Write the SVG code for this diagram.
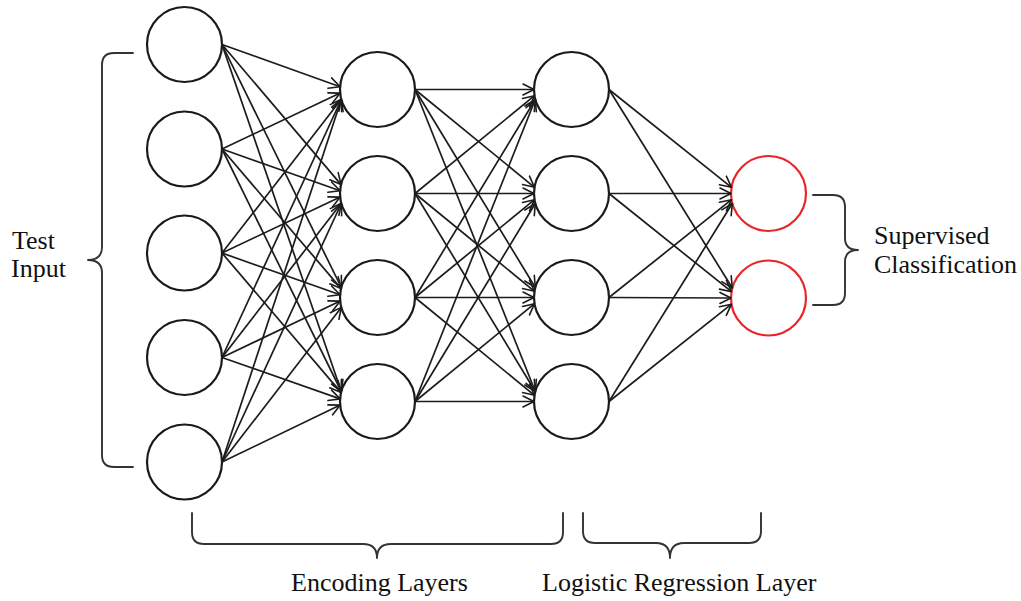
<svg xmlns="http://www.w3.org/2000/svg" width="1021" height="601" viewBox="0 0 1021 601">
  <style>
    .node { fill: #ffffff; stroke: #1a1a1a; stroke-width: 2.2; }
    .out { fill: #ffffff; stroke: #e8262a; stroke-width: 2.2; }
    .edge { stroke: #1c1c1c; stroke-width: 1.7; fill: none; marker-end: url(#arrow); }
    .brace { fill: none; stroke: #333333; stroke-width: 1.9; stroke-linecap: round; stroke-linejoin: round; }
    .label { font-family: "Liberation Serif", "Times New Roman", serif; font-size: 26px; fill: #111111; }
  </style>
  <defs>
    <marker id="arrow" viewBox="-12 -7 13 14" refX="0" refY="0" markerWidth="13" markerHeight="14" markerUnits="userSpaceOnUse" orient="auto">
      <path d="M-11,-5.5 L0,0 L-11,5.5" fill="none" stroke="#1c1c1c" stroke-width="1.6" stroke-linecap="round" stroke-linejoin="round"/>
    </marker>
  </defs>
  <rect x="0" y="0" width="1021" height="601" fill="#ffffff"/>

  <!-- input layer -->
  <g id="in1"><circle class="node" cx="184.5" cy="44.5" r="37.5"/></g>
  <g id="in2"><circle class="node" cx="184.5" cy="149" r="37.5"/></g>
  <g id="in3"><circle class="node" cx="184.5" cy="253" r="37.5"/></g>
  <g id="in4"><circle class="node" cx="184.5" cy="357.5" r="37.5"/></g>
  <g id="in5"><circle class="node" cx="184.5" cy="462" r="37.5"/></g>

  <!-- first encoding layer -->
  <g id="enc1a"><circle class="node" cx="377.5" cy="89.5" r="37.5"/></g>
  <g id="enc1b"><circle class="node" cx="377.5" cy="193.5" r="37.5"/></g>
  <g id="enc1c"><circle class="node" cx="377.5" cy="297.5" r="37.5"/></g>
  <g id="enc1d"><circle class="node" cx="377.5" cy="401.5" r="37.5"/></g>

  <!-- second encoding layer -->
  <g id="enc2a"><circle class="node" cx="571.5" cy="89.5" r="37.5"/></g>
  <g id="enc2b"><circle class="node" cx="571.5" cy="193.5" r="37.5"/></g>
  <g id="enc2c"><circle class="node" cx="571.5" cy="297.5" r="37.5"/></g>
  <g id="enc2d"><circle class="node" cx="571.5" cy="401.5" r="37.5"/></g>

  <!-- output (classification) layer -->
  <g id="out1"><circle class="out" cx="768.5" cy="193.5" r="37.5"/></g>
  <g id="out2"><circle class="out" cx="768.5" cy="298" r="37.5"/></g>

  <g id="connectors">
    <!-- input -> first encoding layer -->
    <line class="edge" x1="222" y1="44.5" x2="340.1" y2="86.8"/>
    <line class="edge" x1="222" y1="44.5" x2="341.1" y2="184.6"/>
    <line class="edge" x1="222" y1="44.5" x2="341.3" y2="287.5"/>
    <line class="edge" x1="222" y1="44.5" x2="341.3" y2="391.5"/>
    <line class="edge" x1="222" y1="149" x2="340.2" y2="93.1"/>
    <line class="edge" x1="222" y1="149" x2="340.1" y2="190.8"/>
    <line class="edge" x1="222" y1="149" x2="341.1" y2="288.6"/>
    <line class="edge" x1="222" y1="149" x2="341.3" y2="391.5"/>
    <line class="edge" x1="222" y1="253" x2="341.3" y2="99.3"/>
    <line class="edge" x1="222" y1="253" x2="340.2" y2="197.1"/>
    <line class="edge" x1="222" y1="253" x2="340.1" y2="294.8"/>
    <line class="edge" x1="222" y1="253" x2="341.1" y2="392.6"/>
    <line class="edge" x1="222" y1="357.5" x2="341.3" y2="99.5"/>
    <line class="edge" x1="222" y1="357.5" x2="341.3" y2="203.3"/>
    <line class="edge" x1="222" y1="357.5" x2="340.2" y2="301.1"/>
    <line class="edge" x1="222" y1="357.5" x2="340.1" y2="398.9"/>
    <line class="edge" x1="222" y1="462" x2="341.3" y2="99.5"/>
    <line class="edge" x1="222" y1="462" x2="341.3" y2="203.5"/>
    <line class="edge" x1="222" y1="462" x2="341.3" y2="307.4"/>
    <line class="edge" x1="222" y1="462" x2="340.2" y2="405.1"/>

    <!-- first -> second encoding layer -->
    <line class="edge" x1="415" y1="89.5" x2="534" y2="89.5"/>
    <line class="edge" x1="415" y1="89.5" x2="534.5" y2="187.3"/>
    <line class="edge" x1="415" y1="89.5" x2="535.3" y2="287.5"/>
    <line class="edge" x1="415" y1="89.5" x2="535.3" y2="391.5"/>
    <line class="edge" x1="415" y1="193.5" x2="534.5" y2="95.7"/>
    <line class="edge" x1="415" y1="193.5" x2="534" y2="193.5"/>
    <line class="edge" x1="415" y1="193.5" x2="534.5" y2="291.3"/>
    <line class="edge" x1="415" y1="193.5" x2="535.3" y2="391.5"/>
    <line class="edge" x1="415" y1="297.5" x2="535.3" y2="99.5"/>
    <line class="edge" x1="415" y1="297.5" x2="534.5" y2="199.7"/>
    <line class="edge" x1="415" y1="297.5" x2="534" y2="297.5"/>
    <line class="edge" x1="415" y1="297.5" x2="534.5" y2="395.3"/>
    <line class="edge" x1="415" y1="401.5" x2="535.3" y2="99.5"/>
    <line class="edge" x1="415" y1="401.5" x2="535.3" y2="203.5"/>
    <line class="edge" x1="415" y1="401.5" x2="534.5" y2="303.7"/>
    <line class="edge" x1="415" y1="401.5" x2="534" y2="401.5"/>

    <!-- second encoding layer -> output -->
    <line class="edge" x1="609" y1="89.5" x2="731.5" y2="187.3"/>
    <line class="edge" x1="609" y1="89.5" x2="732.3" y2="288"/>
    <line class="edge" x1="609" y1="193.5" x2="731" y2="193.5"/>
    <line class="edge" x1="609" y1="193.5" x2="731.5" y2="291.7"/>
    <line class="edge" x1="609" y1="297.5" x2="731.5" y2="199.7"/>
    <line class="edge" x1="609" y1="297.5" x2="731" y2="298"/>
    <line class="edge" x1="609" y1="401.5" x2="732.3" y2="203.5"/>
    <line class="edge" x1="609" y1="401.5" x2="731.5" y2="304.2"/>
  </g>

  <!-- braces -->
  <g id="brace-input">
    <path class="brace" d="M133,53 H114 Q102,53 102,65 V247 Q102,260 88,260 Q102,260 102,273 V455 Q102,467 114,467 H133"/>
  </g>
  <g id="brace-output">
    <path class="brace" d="M813,195 H833 Q845,195 845,207 V238 Q845,250 858,250 Q845,250 845,262 V293 Q845,305 833,305 H813"/>
  </g>
  <g id="brace-encoding">
    <path class="brace" d="M192,513 V532 Q192,544 204,544 H363 Q377,544 377,558 Q377,544 391,544 H551 Q563,544 563,532 V513"/>
  </g>
  <g id="brace-logistic">
    <path class="brace" d="M583,513 V531 Q583,543 595,543 H656 Q670,543 670,558 Q670,543 684,543 H749 Q761,543 761,531 V513"/>
  </g>

  <!-- labels -->
  <g id="label-input">
    <text class="label" x="12" y="249">Test</text>
    <text class="label" x="11" y="277">Input</text>
  </g>
  <g id="label-output">
    <text class="label" x="874" y="244">Supervised</text>
    <text class="label" x="874" y="273">Classification</text>
  </g>
  <g id="label-encoding">
    <text class="label" x="291" y="591">Encoding Layers</text>
  </g>
  <g id="label-logistic">
    <text class="label" x="542" y="591">Logistic Regression Layer</text>
  </g>
</svg>
